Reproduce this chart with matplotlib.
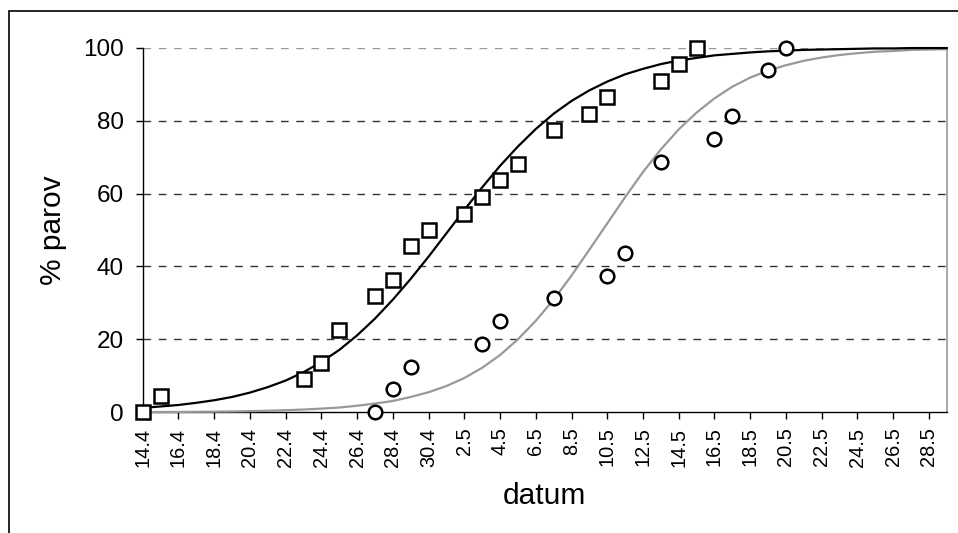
import matplotlib
matplotlib.use("Agg")
import matplotlib.pyplot as plt
from matplotlib.patches import Rectangle

plt.rcParams["font.family"] = ["Liberation Sans", "DejaVu Sans"]

# x positions are days counted from 14.4.
tick_days = list(range(0, 45, 2))
tick_labels = ["14.4", "16.4", "18.4", "20.4", "22.4", "24.4", "26.4", "28.4",
               "30.4", "2.5", "4.5", "6.5", "8.5", "10.5", "12.5", "14.5",
               "16.5", "18.5", "20.5", "22.5", "24.5", "26.5", "28.5"]

# observed % (squares)
sq_days = [0, 1, 9, 10, 11, 13, 14, 15, 16, 18, 19, 20, 21, 23, 25, 26, 29, 30, 31]
sq_pct = [0, 4.5, 9.1, 13.6, 22.7, 31.8, 36.4, 45.5, 50.0, 54.5, 59.1, 63.6,
          68.2, 77.3, 81.8, 86.4, 90.9, 95.5, 100]

# observed % (circles)
ci_days = [13, 14, 15, 19, 20, 23, 26, 27, 29, 32, 33, 35, 36]
ci_pct = [0, 6.25, 12.5, 18.75, 25.0, 31.25, 37.5, 43.75, 68.75, 75.0, 81.25,
          93.75, 100]

# fitted curves
curve_days = list(range(0, 46))
fit_black = [1.2, 1.6, 2.0, 2.6, 3.3, 4.2, 5.4, 6.9, 8.7, 11.0, 13.8, 17.1,
             21.1, 25.7, 30.9, 36.6, 42.7, 49.1, 55.5, 61.7, 67.6, 72.9, 77.7,
             81.9, 85.4, 88.3, 90.7, 92.7, 94.2, 95.5, 96.5, 97.2, 97.9, 98.3,
             98.7, 99.0, 99.2, 99.4, 99.5, 99.6, 99.7, 99.8, 99.8, 99.9, 99.9,
             99.9]
fit_gray = [0.05, 0.07, 0.1, 0.13, 0.17, 0.23, 0.31, 0.42, 0.56, 0.75, 1.0,
            1.3, 1.8, 2.4, 3.1, 4.2, 5.5, 7.2, 9.4, 12.2, 15.7, 20.0, 25.1,
            30.9, 37.5, 44.6, 51.8, 59.0, 65.9, 72.1, 77.6, 82.2, 86.1, 89.3,
            91.8, 93.7, 95.2, 96.4, 97.3, 98.0, 98.5, 98.9, 99.1, 99.4, 99.5,
            99.6]

fig = plt.figure(figsize=(9.58, 5.33), dpi=100)
ax = fig.add_axes([0.149, 0.2265, 0.8392, 0.684])

# outer chart frame (runs off the right and bottom edge)
fig.patches.append(Rectangle((9 / 958, -0.1), 1.2, 1.1 - 10.7 / 533,
                             transform=fig.transFigure, fill=False,
                             edgecolor="black", linewidth=1.2))

for v in [20, 40, 60, 80]:
    ax.axhline(v, color="#333333", linewidth=1.0, dashes=(5.5, 5.5), zorder=1)
ax.axhline(100, color="#999999", linewidth=1.0, dashes=(5.5, 5.5), zorder=1)

ax.plot(curve_days, fit_gray, color="#999999", linewidth=1.6, zorder=3,
        clip_on=False)
ax.plot(curve_days, fit_black, color="black", linewidth=1.6, zorder=4,
        clip_on=False)

ax.plot(sq_days, sq_pct, linestyle="none", marker="s", markersize=9.8,
        markerfacecolor="white", markeredgecolor="black",
        markeredgewidth=1.8, zorder=5, clip_on=False)
ax.plot(ci_days, ci_pct, linestyle="none", marker="o", markersize=9.8,
        markerfacecolor="white", markeredgecolor="black",
        markeredgewidth=1.8, zorder=5, clip_on=False)

ax.set_xlim(0, 45)
ax.set_ylim(0, 100)
ax.set_xticks(tick_days)
ax.set_xticklabels(tick_labels, rotation=90, fontsize=14.4)
ax.set_yticks([0, 20, 40, 60, 80, 100])
ax.tick_params(axis="y", labelsize=17.5, length=5, width=1, pad=8.5)
ax.tick_params(axis="x", length=5, width=1, pad=6)

ax.spines["top"].set_visible(False)
ax.spines["right"].set_color("#999999")
ax.spines["right"].set_linewidth(1.2)
ax.spines["left"].set_linewidth(1.0)
ax.spines["bottom"].set_linewidth(1.0)

ax.set_xlabel("datum", fontsize=21.5, labelpad=11)
ax.set_ylabel("% parov", fontsize=21.5, labelpad=12)

fig.savefig("out.png", dpi=100)
